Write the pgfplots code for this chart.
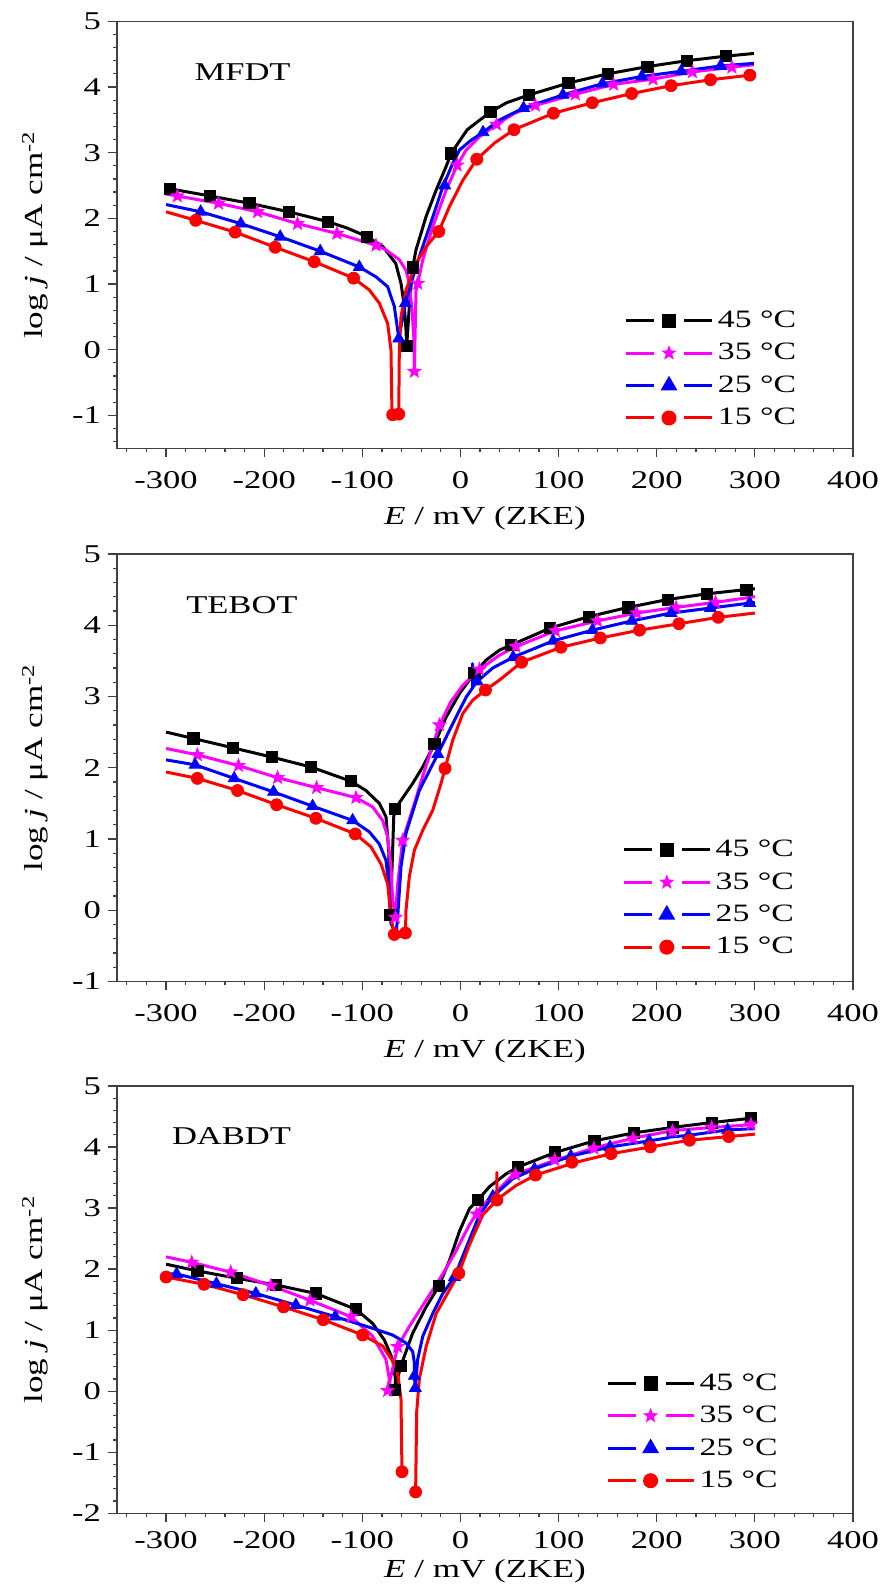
\documentclass[border=0pt]{standalone}
\usepackage{fontspec}
\setmainfont{Liberation Serif}[FakeStretch=1.35]
\usepackage{pgfplots}
\pgfplotsset{compat=1.18}
\definecolor{cK}{RGB}{0,0,0}
\definecolor{cM}{RGB}{255,0,255}
\definecolor{cB}{RGB}{0,0,255}
\definecolor{cR}{RGB}{255,0,0}
\pgfdeclareplotmark{fstar}{%
  \pgfpathmoveto{\pgfpointpolar{90}{\pgfplotmarksize}}%
  \pgfpathlineto{\pgfpointpolar{126}{0.42\pgfplotmarksize}}%
  \pgfpathlineto{\pgfpointpolar{162}{\pgfplotmarksize}}%
  \pgfpathlineto{\pgfpointpolar{198}{0.42\pgfplotmarksize}}%
  \pgfpathlineto{\pgfpointpolar{234}{\pgfplotmarksize}}%
  \pgfpathlineto{\pgfpointpolar{270}{0.42\pgfplotmarksize}}%
  \pgfpathlineto{\pgfpointpolar{306}{\pgfplotmarksize}}%
  \pgfpathlineto{\pgfpointpolar{342}{0.42\pgfplotmarksize}}%
  \pgfpathlineto{\pgfpointpolar{18}{\pgfplotmarksize}}%
  \pgfpathlineto{\pgfpointpolar{54}{0.42\pgfplotmarksize}}%
  \pgfpathclose\pgfusepathqfill}
\pgfplotsset{
  panel/.style={
    scale only axis, width=368pt,
    xmin=-350, xmax=400,
    xtick={-300,-200,...,400},
    minor xtick={-340,-320,...,380},
    tick align=outside,
    xtick pos=left, ytick pos=left,
    major tick length=4.5pt, minor tick length=2pt,
    axis line style={black!75, line width=0.6pt},
    every tick/.style={black!75, line width=0.6pt},
    tick label style={font=\fontsize{12.8}{15}\selectfont},
    /pgf/number format/assume math mode=true,
    xlabel={\textit{E} / mV (ZKE)},
    ylabel={log \textit{j} / μA cm\textsuperscript{-2}},
    label style={font=\fontsize{13}{15}\selectfont},
    ylabel style={yshift=5pt},
    legend style={draw=none, fill=none, font=\fontsize{12.5}{14}\selectfont,
      anchor=north west, row sep=2pt, inner sep=0pt, nodes={inner sep=2.2pt}},
    legend cell align=left,
    legend image code/.code={%
      \draw[##1, mark=none] (0pt,0pt) -- (14pt,0pt);
      \draw[##1, mark=none] (29pt,0pt) -- (43pt,0pt);
      \draw[##1] plot coordinates {(21.5pt,0pt)};},
  },
  ln/.style={line width=1.5pt, mark=none, line join=round, forget plot},
  mk/.style={only marks, forget plot},
  c45/.style={cK, mark=square*, mark size=2.8pt},
  c35/.style={cM, mark=fstar, mark size=4pt},
  c25/.style={cB, mark=triangle*, mark size=3.4pt},
  c15/.style={cR, mark=*, mark size=3pt},
}
\begin{document}
\begin{tikzpicture}
\path[use as bounding box] (0pt,0pt) rectangle (442.5pt,796pt);
% ---------------- MFDT ----------------
\begin{axis}[panel, at={(58.5pt,571.85pt)}, anchor=south west, height=213.5pt,
  ymin=-1.5, ymax=5, ytick={-1,0,...,5}, minor ytick={-1.4,-1.2,...,4.9},
  xticklabel style={yshift=-3.5pt}, xlabel style={yshift=-2pt},
  legend style={at={(0.689,0.333)}}]
\addlegendimage{c45, line width=1.5pt}\addlegendentry{45 °C}
\addlegendimage{c35, line width=1.5pt}\addlegendentry{35 °C}
\addlegendimage{c25, line width=1.5pt}\addlegendentry{25 °C}
\addlegendimage{c15, line width=1.5pt}\addlegendentry{15 °C}
\addplot[c45, ln] coordinates {(-300,2.47) (-296,2.45) (-255,2.34) (-215,2.23) (-175,2.10) (-135,1.95) (-115,1.85) (-95,1.72) (-79,1.57) (-66,1.315) (-60.6,1.01) (-57.2,0.66) (-55.5,0.30) (-54.8,0.06) (-52.1,0.66) (-48.7,1.255) (-45.3,1.52) (-35.0,2.03) (-24.8,2.43) (-14.6,2.79) (-9.5,2.99) (6.9,3.35) (30.5,3.62) (47,3.76) (70,3.88) (110,4.06) (150,4.20) (190.5,4.31) (230.7,4.40) (270.8,4.47) (299,4.51)};
\addplot[c45, mk] coordinates {(-296,2.45) (-255,2.34) (-215,2.23) (-175,2.10) (-135,1.95) (-95,1.72) (-54.8,0.06) (-48.7,1.255) (-9.5,2.99) (30.5,3.62) (70,3.88) (110,4.06) (150,4.20) (190.5,4.31) (230.7,4.40) (270.8,4.47)};
\addplot[c35, ln] coordinates {(-300,2.37) (-288.5,2.34) (-246.6,2.23) (-206.8,2.10) (-166,1.92) (-125.9,1.77) (-86.1,1.59) (-75.9,1.52) (-62.3,1.37) (-55.5,1.21) (-52.1,1.01) (-49.3,0.60) (-47.6,0.20) (-47.0,-0.33) (-45.3,0.9) (-43.6,1.01) (-38.4,1.37) (-28.3,1.87) (-14.6,2.43) (-3.4,2.81) (5.8,3.04) (20,3.25) (36.8,3.43) (55,3.60) (76.3,3.72) (117.1,3.89) (156.1,4.04) (196.3,4.12) (236.4,4.23) (276.6,4.30) (299,4.34)};
\addplot[c35, mk] coordinates {(-288.5,2.34) (-246.6,2.23) (-206.8,2.10) (-166,1.92) (-125.9,1.77) (-86.1,1.59) (-47.0,-0.33) (-43.6,1.01) (-3.4,2.81) (36.8,3.43) (76.3,3.72) (117.1,3.89) (156.1,4.04) (196.3,4.12) (236.4,4.23) (276.6,4.30)};
\addplot[c25, ln] coordinates {(-300,2.21) (-264.7,2.10) (-223.8,1.92) (-183.7,1.72) (-142.9,1.50) (-103.1,1.26) (-86.1,1.11) (-74.2,0.96) (-67.4,0.66) (-64.0,0.30) (-62.9,0.17) (-58,0.55) (-56.1,0.71) (-50.4,1.01) (-41.9,1.42) (-31.6,1.87) (-18,2.48) (-7.8,2.84) (-1,3.04) (10,3.18) (23,3.31) (40,3.50) (64.3,3.68) (104.4,3.88) (144.6,4.05) (184.8,4.16) (224.9,4.24) (265.1,4.32) (299,4.36)};
\addplot[c25, mk] coordinates {(-264.7,2.10) (-223.8,1.92) (-183.7,1.72) (-142.9,1.50) (-103.1,1.26) (-62.9,0.17) (-56.1,0.71) (-16,2.50) (23,3.31) (64.3,3.68) (104.4,3.88) (144.6,4.05) (184.8,4.16) (224.9,4.24) (265.1,4.32)};
\addplot[c15, ln] coordinates {(-300,2.10) (-269.8,1.97) (-229.6,1.79) (-188.8,1.56) (-149,1.34) (-108.9,1.09) (-92.9,0.91) (-82.7,0.71) (-74.2,0.40) (-70.8,0.00) (-69.8,-0.97) (-69.1,-0.99) (-62.9,-0.98) (-62.3,0.00) (-60.6,0.50) (-55.5,0.91) (-45.3,1.32) (-35,1.57) (-22.1,1.80) (-11.2,2.18) (2.4,2.58) (16.6,2.90) (35,3.15) (54.5,3.35) (94.7,3.60) (134.3,3.76) (174.4,3.90) (214.6,4.02) (254.8,4.11) (294.9,4.18) (299,4.19)};
\addplot[c15, mk] coordinates {(-269.8,1.97) (-229.6,1.79) (-188.8,1.56) (-149,1.34) (-108.9,1.09) (-69.1,-0.99) (-62.9,-0.98) (-22.1,1.80) (16.6,2.90) (54.5,3.35) (94.7,3.60) (134.3,3.76) (174.4,3.90) (214.6,4.02) (254.8,4.11) (294.9,4.18)};
\node[font=\fontsize{12.8}{15}\selectfont] at (axis cs:-222,4.23) {MFDT};
\end{axis}
% ---------------- TEBOT ----------------
\begin{axis}[panel, at={(58.5pt,305.25pt)}, anchor=south west, height=213.8pt,
  ymin=-1, ymax=5, ytick={-1,0,...,5}, minor ytick={-0.8,-0.6,...,4.9},
  xticklabel style={yshift=-3.5pt}, xlabel style={yshift=-2pt},
  legend style={at={(0.686,0.342)}}]
\addlegendimage{c45, line width=1.5pt}\addlegendentry{45 °C}
\addlegendimage{c35, line width=1.5pt}\addlegendentry{35 °C}
\addlegendimage{c25, line width=1.5pt}\addlegendentry{25 °C}
\addlegendimage{c15, line width=1.5pt}\addlegendentry{15 °C}
\addplot[c45, ln] coordinates {(-300,2.50) (-272.1,2.41) (-232.3,2.28) (-192.5,2.15) (-152.4,2.01) (-111.6,1.81) (-96.3,1.68) (-82.7,1.50) (-75.9,1.31) (-73.1,0.84) (-72.5,0.37) (-71.4,-0.06) (-69.7,0.61) (-68.0,1.31) (-66.7,1.42) (-48.7,1.78) (-38.5,2.01) (-26.5,2.33) (-14.6,2.71) (-1.0,3.04) (14.3,3.33) (26.2,3.51) (39.8,3.65) (51.5,3.72) (91.5,3.96) (131,4.12) (171.1,4.25) (211.1,4.36) (251.2,4.44) (291.3,4.50) (300,4.51)};
\addplot[c45, mk] coordinates {(-272.1,2.41) (-232.3,2.28) (-192.5,2.15) (-152.4,2.01) (-111.6,1.81) (-71.4,-0.06) (-66.7,1.42) (-26.5,2.33) (14.3,3.33) (51.5,3.72) (91.5,3.96) (131,4.12) (171.1,4.25) (211.1,4.36) (251.2,4.44) (291.3,4.50)};
\addplot[c35, ln] coordinates {(-300,2.27) (-268.1,2.18) (-226.2,2.03) (-186.4,1.86) (-146.6,1.72) (-106.5,1.58) (-89.5,1.45) (-79.3,1.26) (-74.2,1.03) (-70.8,0.61) (-69.1,0.14) (-66.3,-0.10) (-64.0,0.37) (-58.9,0.98) (-48,1.45) (-38,1.90) (-28.5,2.30) (-21.4,2.60) (-10,2.92) (2,3.15) (19.4,3.38) (39.8,3.58) (56.6,3.70) (96.7,3.92) (139.6,4.06) (179.7,4.17) (219.7,4.25) (259.8,4.32) (300,4.40)};
\addplot[c35, mk] coordinates {(-268.1,2.18) (-226.2,2.03) (-186.4,1.86) (-146.6,1.72) (-106.5,1.58) (-66.3,-0.10) (-58.9,0.98) (-21.4,2.60) (19.4,3.38) (56.6,3.70) (96.7,3.92) (139.6,4.06) (179.7,4.17) (219.7,4.25) (259.8,4.32)};
\addplot[c25, ln] coordinates {(-300,2.11) (-270.4,2.04) (-230.6,1.85) (-190.5,1.66) (-150.7,1.46) (-109.9,1.26) (-92.9,1.10) (-82.7,0.93) (-75.9,0.70) (-72.5,0.28) (-70.8,-0.19) (-65.7,-0.33) (-64.0,-0.10) (-60.6,0.61) (-55.5,1.08) (-41.9,1.68) (-23.1,2.19) (-7.8,2.62) (5.8,2.99) (12.3,3.12) (12.3,3.46) (12.6,3.13) (17,3.21) (33,3.40) (53.7,3.55) (94.4,3.78) (134.5,3.93) (174.5,4.06) (214.6,4.17) (254.7,4.24) (294.7,4.31) (300,4.32)};
\addplot[c25, mk] coordinates {(-270.4,2.04) (-230.6,1.85) (-190.5,1.66) (-150.7,1.46) (-109.9,1.26) (-65.7,-0.33) (-23.1,2.19) (17,3.21) (53.7,3.55) (94.4,3.78) (134.5,3.93) (174.5,4.06) (214.6,4.17) (254.7,4.24) (294.7,4.31)};
\addplot[c15, ln] coordinates {(-300,1.94) (-268.1,1.85) (-227.2,1.68) (-187.4,1.48) (-147.3,1.29) (-107.2,1.07) (-91.2,0.89) (-81,0.65) (-74.2,0.37) (-70.8,-0.10) (-67.4,-0.34) (-56.1,-0.32) (-55.5,0.00) (-52.1,0.47) (-47,0.84) (-38.5,1.12) (-28.3,1.40) (-19.8,1.78) (-15.7,1.99) (-7.8,2.39) (2.4,2.76) (12.6,2.95) (25.5,3.09) (39.8,3.23) (62.3,3.48) (102.4,3.69) (142.5,3.82) (182.5,3.93) (222.6,4.02) (262.7,4.11) (300,4.17)};
\addplot[c15, mk] coordinates {(-268.1,1.85) (-227.2,1.68) (-187.4,1.48) (-147.3,1.29) (-107.2,1.07) (-67.4,-0.34) (-56.1,-0.32) (-15.7,1.99) (25.5,3.09) (62.3,3.48) (102.4,3.69) (142.5,3.82) (182.5,3.93) (222.6,4.02) (262.7,4.11)};
\node[font=\fontsize{12.8}{15}\selectfont] at (axis cs:-222.7,4.28) {TEBOT};
\end{axis}
% ---------------- DABDT ----------------
\begin{axis}[panel, at={(58.5pt,39.35pt)}, anchor=south west, height=213.7pt,
  ymin=-2, ymax=5, ytick={-2,-1,...,5}, minor ytick={-1.8,-1.6,...,4.9},
  xticklabel style={yshift=-1pt}, xlabel style={yshift=1.5pt},
  legend style={at={(0.664,0.338)}}]
\addlegendimage{c45, line width=1.5pt}\addlegendentry{45 °C}
\addlegendimage{c35, line width=1.5pt}\addlegendentry{35 °C}
\addlegendimage{c25, line width=1.5pt}\addlegendentry{25 °C}
\addlegendimage{c15, line width=1.5pt}\addlegendentry{15 °C}
\addplot[c45, ln] coordinates {(-300,2.08) (-268.1,1.97) (-227.9,1.85) (-188.2,1.74) (-147.3,1.60) (-106.5,1.34) (-89.5,1.11) (-77.6,0.84) (-69.1,0.52) (-66.3,0.20) (-66.7,0.02) (-63.5,0.25) (-60.6,0.42) (-48.7,0.95) (-35,1.38) (-22.1,1.72) (-11.2,2.14) (-1,2.62) (9.2,2.99) (17.7,3.13) (29.6,3.35) (46.6,3.56) (58.5,3.67) (96.5,3.91) (136.4,4.10) (176.4,4.23) (216.3,4.32) (256.2,4.40) (296.2,4.47) (300,4.47)};
\addplot[c45, mk] coordinates {(-268.1,1.97) (-227.9,1.85) (-188.2,1.74) (-147.3,1.60) (-106.5,1.34) (-66.7,0.02) (-60.6,0.42) (-22.1,1.72) (17.7,3.13) (58.5,3.67) (96.5,3.91) (136.4,4.10) (176.4,4.23) (216.3,4.32) (256.2,4.40) (296.2,4.47)};
\addplot[c35, ln] coordinates {(-300,2.20) (-273.8,2.11) (-234.1,1.95) (-193.2,1.73) (-153.4,1.49) (-111.6,1.22) (-89.5,0.90) (-75.9,0.52) (-72.5,0.20) (-74.2,0.01) (-64,0.73) (-52.1,1.06) (-35,1.49) (-18,1.92) (-4.4,2.30) (9.2,2.73) (21.1,3.02) (33,3.21) (53.4,3.54) (97.6,3.79) (137.6,3.99) (177.5,4.15) (217.4,4.27) (257.4,4.32) (300,4.37)};
\addplot[c35, mk] coordinates {(-273.8,2.11) (-234.1,1.95) (-193.2,1.73) (-153.4,1.49) (-111.6,1.22) (-74.2,0.01) (-64,0.73) (16.6,2.90) (56,3.55) (96,3.79) (136,3.98) (176,4.14) (216,4.26) (256,4.32) (296,4.37)};
\addplot[c25, ln] coordinates {(-300,1.92) (-289.2,1.92) (-248.7,1.76) (-208.5,1.60) (-167.7,1.41) (-127.6,1.22) (-89.5,1.03) (-69.1,0.92) (-55.5,0.79) (-48.7,0.65) (-47,0.47) (-47,0.25) (-46,0.05) (-43.6,0.52) (-38.4,0.90) (-28.3,1.27) (-18,1.60) (-6.1,1.87) (5.8,2.35) (19.4,2.89) (33,3.19) (53.4,3.48) (75.5,3.64) (112.5,3.85) (152.4,4.00) (192.3,4.10) (211.7,4.15) (211.7,4.32) (212,4.16) (232.3,4.19) (272.2,4.28) (300,4.30)};
\addplot[c25, mk] coordinates {(-289.2,1.92) (-248.7,1.76) (-208.5,1.60) (-167.7,1.41) (-127.6,1.22) (-47,0.25) (-46,0.05) (-6.1,1.87) (33,3.19) (75.5,3.64) (112.5,3.85) (152.4,4.00) (192.3,4.10) (232.3,4.19) (272.2,4.28)};
\addplot[c15, ln] coordinates {(-300,1.87) (-261.3,1.75) (-221.5,1.58) (-180.3,1.38) (-139.8,1.17) (-99.7,0.92) (-79.3,0.74) (-65.7,0.41) (-64,0.30) (-60.6,-0.13) (-59.6,-1.32)};
\addplot[c15, ln] coordinates {(-45.7,-1.65) (-44.6,-0.34) (-41.9,0.20) (-35,0.73) (-24.8,1.27) (-1.7,1.93) (9.2,2.40) (22.8,2.89) (37.1,3.13) (37.1,3.58) (37.3,3.14) (56.8,3.37) (76.5,3.54) (118,3.75) (153.5,3.89) (193.5,4.00) (233.4,4.11) (273.4,4.17) (300,4.21)};
\addplot[c15, mk] coordinates {(-300,1.87) (-261.3,1.75) (-221.5,1.58) (-180.3,1.38) (-139.8,1.17) (-99.7,0.92) (-59.6,-1.32) (-45.7,-1.65) (-1.7,1.93) (37.1,3.13) (76.5,3.54) (113.6,3.75) (153.5,3.89) (193.5,4.00) (233.4,4.11) (273.4,4.17)};
\node[font=\fontsize{12.8}{15}\selectfont] at (axis cs:-233.3,4.17) {DABDT};
\end{axis}
\end{tikzpicture}
\end{document}
